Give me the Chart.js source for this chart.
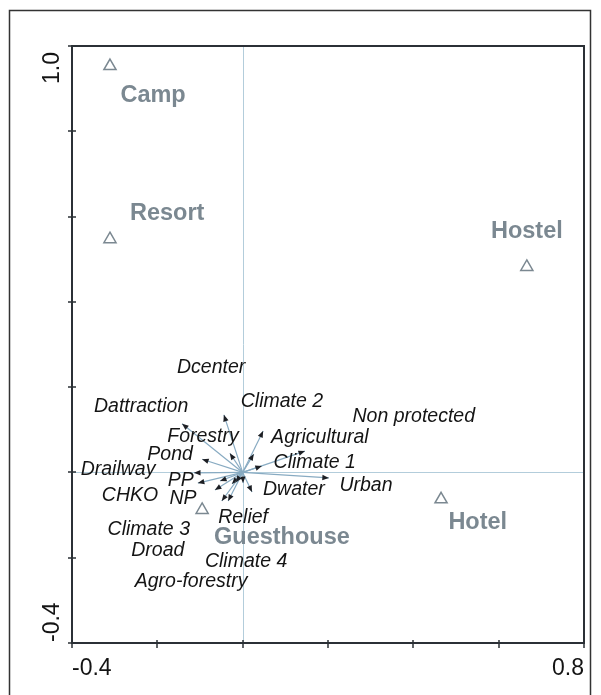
<!DOCTYPE html>
<html>
<head>
<meta charset="utf-8">
<script src="https://cdn.jsdelivr.net/npm/chart.js@4"></script>
<style>
  html, body { margin: 0; padding: 0; background: #fff; }
  canvas { display: block; }
</style>
</head>
<body>
<canvas id="biplot" width="601" height="695"></canvas>
<script>
// Ordination biplot: accommodation types (sites) and environmental variables (arrows)

const X_MIN = -0.4;
const X_MAX = 0.8;
const Y_MIN = -0.4;
const Y_MAX = 1.0;

const xTicks = [-0.4, -0.2, 0, 0.2, 0.4, 0.6, 0.8];
const yTicks = [-0.4, -0.2, 0, 0.2, 0.4, 0.6, 0.8, 1.0];
const xTickLabels = ["-0.4", "0.8"];
const yTickLabels = ["-0.4", "1.0"];

// sites
const siteNames = ["Camp", "Resort", "Hostel", "Hotel", "Guesthouse"];
const siteX = [-0.311, -0.311, 0.666, 0.465, -0.095];
const siteY = [0.953, 0.547, 0.482, -0.063, -0.088];
const siteLabelX = [-0.210, -0.177, 0.666, 0.551, 0.092];
const siteLabelY = [0.883, 0.607, 0.565, -0.117, -0.152];

// environmental variables (arrow tips)
const varNames = [
  "Dcenter", "Dattraction", "Climate 2", "Non protected", "Forestry",
  "Agricultural", "Pond", "Climate 1", "Drailway", "Urban",
  "PP", "CHKO", "NP", "Dwater", "Relief",
  "Climate 3", "Droad", "Climate 4", "Agro-forestry",
];
const varX = [
  -0.044, -0.142, 0.048, 0.146, -0.030,
  0.026, -0.095, 0.045, -0.114, 0.202,
  -0.105, -0.065, -0.049, 0.022, 0.001,
  -0.053, -0.025, -0.034, -0.016,
];
const varY = [
  0.135, 0.114, 0.097, 0.050, 0.045,
  0.043, 0.031, 0.015, -0.001, -0.013,
  -0.025, -0.041, -0.067, -0.046, -0.025,
  -0.020, -0.027, -0.067, -0.023,
];
const varLabelX = [
  -0.074, -0.238, 0.092, 0.401, -0.093,
  0.181, -0.170, 0.169, -0.292, 0.289,
  -0.145, -0.264, -0.140, 0.120, 0.001,
  -0.220, -0.199, 0.008, -0.121,
];
const varLabelY = [
  0.245, 0.154, 0.167, 0.132, 0.083,
  0.081, 0.041, 0.024, 0.006, -0.030,
  -0.020, -0.055, -0.062, -0.041, -0.105,
  -0.135, -0.184, -0.208, -0.257,
];

const SITE_COLOR = "#7b8891";
const AXIS_COLOR = "#2b3036";
const ZERO_COLOR = "#b3cddb";
const SHAFT_COLOR = "#88abc2";
const HEAD_COLOR = "#1d1f24";
const TEXT_COLOR = "#141414";

function drawArrow(ctx, x0, y0, x1, y1) {
  const a = Math.atan2(y1 - y0, x1 - x0);
  ctx.strokeStyle = SHAFT_COLOR;
  ctx.lineWidth = 1.2;
  ctx.beginPath();
  ctx.moveTo(x0, y0);
  ctx.lineTo(x1, y1);
  ctx.stroke();

  const len = 6.5;
  const half = 2.7;
  ctx.fillStyle = HEAD_COLOR;
  ctx.beginPath();
  ctx.moveTo(x1, y1);
  ctx.lineTo(x1 - len * Math.cos(a) + half * Math.sin(a), y1 - len * Math.sin(a) - half * Math.cos(a));
  ctx.lineTo(x1 - len * Math.cos(a) - half * Math.sin(a), y1 - len * Math.sin(a) + half * Math.cos(a));
  ctx.closePath();
  ctx.fill();
}

const biplotPlugin = {
  id: "biplot",
  beforeDatasetsDraw(chart) {
    const { ctx, chartArea: area, scales } = chart;
    const sx = (v) => scales.x.getPixelForValue(v);
    const sy = (v) => scales.y.getPixelForValue(v);
    ctx.save();

    // zero lines
    ctx.strokeStyle = ZERO_COLOR;
    ctx.lineWidth = 1;
    ctx.beginPath();
    ctx.moveTo(Math.round(sx(0)) + 0.5, area.top);
    ctx.lineTo(Math.round(sx(0)) + 0.5, area.bottom);
    ctx.moveTo(area.left, Math.round(sy(0)) + 0.5);
    ctx.lineTo(area.right, Math.round(sy(0)) + 0.5);
    ctx.stroke();

    // variable arrows
    const ox = sx(0);
    const oy = sy(0);
    varNames.forEach((name, i) => {
      drawArrow(ctx, ox, oy, sx(varX[i]), sy(varY[i]));
    });

    // variable labels
    ctx.fillStyle = TEXT_COLOR;
    ctx.font = 'italic 19.5px "Liberation Sans", Arial, sans-serif';
    ctx.textAlign = "center";
    ctx.textBaseline = "middle";
    varNames.forEach((name, i) => {
      ctx.fillText(name, sx(varLabelX[i]), sy(varLabelY[i]));
    });

    // site labels
    ctx.fillStyle = SITE_COLOR;
    ctx.font = 'bold 23.5px "Liberation Sans", Arial, sans-serif';
    siteNames.forEach((name, i) => {
      ctx.fillText(name, sx(siteLabelX[i]), sy(siteLabelY[i]));
    });

    // plot frame
    ctx.strokeStyle = AXIS_COLOR;
    ctx.lineWidth = 2;
    ctx.strokeRect(area.left, area.top, area.right - area.left, area.bottom - area.top);

    // ticks
    ctx.lineWidth = 1.5;
    ctx.beginPath();
    xTicks.forEach((v) => {
      const px = Math.round(sx(v));
      ctx.moveTo(px, area.bottom - 3);
      ctx.lineTo(px, area.bottom + 5);
    });
    yTicks.forEach((v) => {
      const py = Math.round(sy(v));
      ctx.moveTo(area.left - 4, py);
      ctx.lineTo(area.left + 4, py);
    });
    ctx.stroke();

    // tick labels at the axis ends
    ctx.fillStyle = TEXT_COLOR;
    ctx.font = '23px "Liberation Sans", Arial, sans-serif';
    ctx.textBaseline = "alphabetic";
    ctx.textAlign = "left";
    ctx.fillText(xTickLabels[0], sx(X_MIN), area.bottom + 32);
    ctx.textAlign = "right";
    ctx.fillText(xTickLabels[1], sx(X_MAX), area.bottom + 32);

    ctx.save();
    ctx.translate(area.left - 13, sy(Y_MIN) - 1);
    ctx.rotate(-Math.PI / 2);
    ctx.textAlign = "left";
    ctx.fillText(yTickLabels[0], 0, 0);
    ctx.restore();

    ctx.save();
    ctx.translate(area.left - 13, sy(Y_MAX) + 38);
    ctx.rotate(-Math.PI / 2);
    ctx.textAlign = "left";
    ctx.fillText(yTickLabels[1], 0, 0);
    ctx.restore();

    // outer frame (open at the bottom)
    ctx.strokeStyle = "#333";
    ctx.lineWidth = 1.5;
    ctx.beginPath();
    ctx.moveTo(9.5, chart.height);
    ctx.lineTo(9.5, 10.5);
    ctx.lineTo(590.5, 10.5);
    ctx.lineTo(590.5, chart.height);
    ctx.stroke();

    ctx.restore();
  },
};

new Chart(document.getElementById("biplot"), {
  type: "scatter",
  data: {
    datasets: [{
      data: siteNames.map((n, i) => ({ x: siteX[i], y: siteY[i] })),
      pointStyle: "triangle",
      pointRadius: 7,
      borderColor: SITE_COLOR,
      backgroundColor: "rgba(255,255,255,0)",
      borderWidth: 1.5,
    }],
  },
  options: {
    responsive: false,
    animation: false,
    devicePixelRatio: 1,
    layout: { padding: { left: 72, top: 46, right: 17, bottom: 52 } },
    plugins: { legend: { display: false }, tooltip: { enabled: false } },
    scales: {
      x: { type: "linear", min: X_MIN, max: X_MAX, display: false },
      y: { type: "linear", min: Y_MIN, max: Y_MAX, display: false },
    },
  },
  plugins: [biplotPlugin],
});
</script>
</body>
</html>
